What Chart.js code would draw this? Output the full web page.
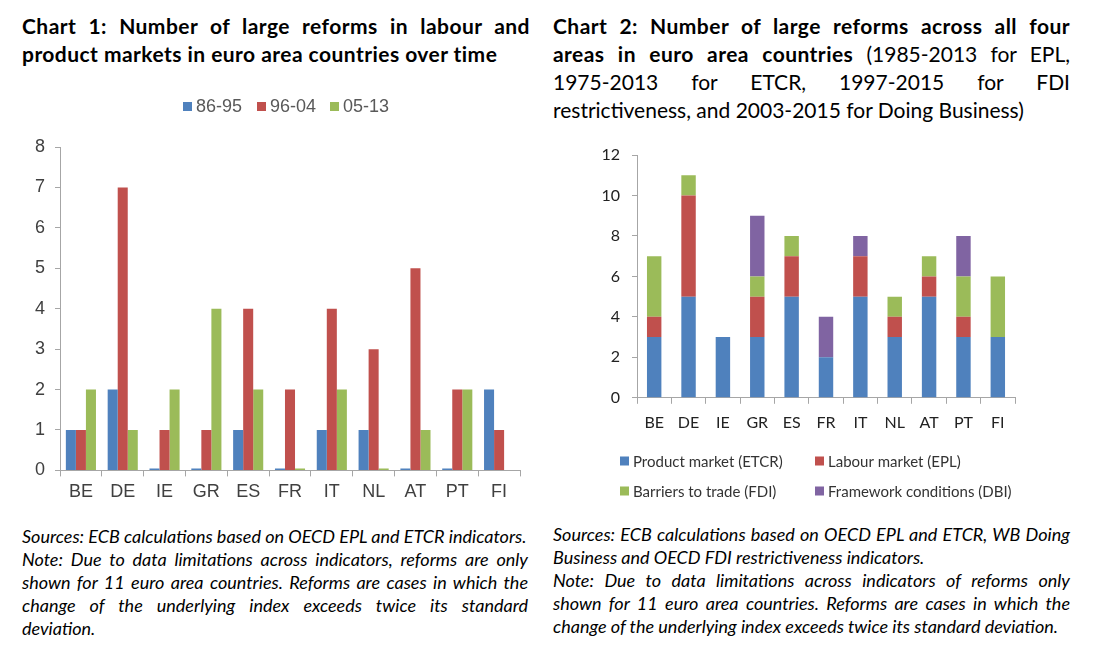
<!DOCTYPE html>
<html>
<head>
<meta charset="utf-8">
<script src="https://cdn.jsdelivr.net/npm/chart.js@4"></script>
<style>
    body { margin: 0; width: 1105px; height: 665px; background: #fff; position: relative; overflow: hidden; font-family: Lato, "Open Sans", sans-serif; color: #000; }
    .box { position: absolute; }
    .line { white-space: nowrap; text-align: justify; text-align-last: justify; }
    .line.last { text-align-last: left; }
    .title { font-size: 21px; line-height: 28px; }
    .title b { letter-spacing: 0.45px; }
    .note { font-size: 18px; line-height: 23px; font-style: italic; }
</style>
</head>
<body>
<div class="box title" style="left:22px; top:12px; width:508px;">
    <div class="line"><b>Chart 1: Number of large reforms in labour and</b></div>
    <div class="line last"><b>product markets in euro area countries over time</b></div>
</div>
<div class="box title" style="left:553px; top:12px; width:517px;">
    <div class="line"><b>Chart 2: Number of large reforms across all four</b></div>
    <div class="line"><b>areas in euro area countries</b> (1985-2013 for EPL,</div>
    <div class="line">1975-2013 for ETCR, 1997-2015 for FDI</div>
    <div class="line last">restrictiveness, and 2003-2015 for Doing Business)</div>
</div>

<div class="box" style="left:20px; top:87px; width:510px; height:425px;"><canvas id="chart1"></canvas></div>
<div class="box" style="left:580px; top:140px; width:450px; height:365px;"><canvas id="chart2"></canvas></div>

<div class="box note" style="left:22px; top:525px; width:506px;">
    <div class="line last">Sources: ECB calculations based on OECD EPL and ETCR indicators.</div>
    <div class="line">Note: Due to data limitations across indicators, reforms are only</div>
    <div class="line">shown for 11 euro area countries. Reforms are cases in which the</div>
    <div class="line">change of the underlying index exceeds twice its standard</div>
    <div class="line last">deviation.</div>
</div>
<div class="box note" style="left:553px; top:523px; width:517px;">
    <div class="line">Sources: ECB calculations based on OECD EPL and ETCR, WB Doing</div>
    <div class="line last">Business and OECD FDI restrictiveness indicators.</div>
    <div class="line">Note: Due to data limitations across indicators of reforms only</div>
    <div class="line">shown for 11 euro area countries. Reforms are cases in which the</div>
    <div class="line last">change of the underlying index exceeds twice its standard deviation.</div>
</div>

<script>
// shrink any text line that would run past its column
document.querySelectorAll('.line').forEach(el => {
    let size = parseFloat(getComputedStyle(el).fontSize);
    while (el.scrollWidth > el.clientWidth + 0.5 && size > 10) {
        size -= 0.25;
        el.style.fontSize = size + 'px';
    }
});

const countries = ['BE', 'DE', 'IE', 'GR', 'ES', 'FR', 'IT', 'NL', 'AT', 'PT', 'FI'];

// chart 1 (zeros are shown as a thin stub in the original)
const periods = ['86-95', '96-04', '05-13'];
const reforms8695 = [1, 2, 0.05, 0.05, 1, 0.05, 1, 1, 0.05, 0.05, 2];
const reforms9604 = [1, 7, 1, 1, 4, 2, 4, 3, 5, 2, 1];
const reforms0513 = [2, 1, 2, 4, 2, 0.05, 2, 0.05, 1, 2, 0];

// chart 2
const areas = ['Product market (ETCR)', 'Labour market (EPL)', 'Barriers to trade (FDI)', 'Framework conditions (DBI)'];
const etcr = [3, 5, 3, 3, 5, 2, 5, 3, 5, 3, 3];
const epl  = [1, 5, 0, 2, 2, 0, 2, 1, 1, 1, 0];
const fdi  = [3, 1, 0, 1, 1, 0, 0, 1, 1, 2, 3];
const dbi  = [0, 0, 0, 3, 0, 2, 1, 0, 0, 2, 0];

const blue = '#4F81BD', red = '#C0504D', green = '#9BBB59', purple = '#8064A2';
const axisGrey = '#A6A6A6';

// legend drawn at fixed spots, one entry per dataset
const placedLegend = {
    id: 'placedLegend',
    afterDraw(chart, args, opts) {
        const ctx = chart.ctx;
        ctx.save();
        ctx.font = opts.font;
        ctx.textBaseline = 'middle';
        chart.data.datasets.forEach((ds, i) => {
            const [x, y] = opts.spots[i];
            ctx.fillStyle = ds.backgroundColor;
            ctx.fillRect(x, y - opts.box / 2, opts.box, opts.box);
            ctx.fillStyle = opts.color;
            ctx.fillText(ds.label, x + opts.box + opts.gap, y + 1);
        });
        ctx.restore();
    }
};

new Chart(document.getElementById('chart1'), {
    type: 'bar',
    data: {
        labels: countries,
        datasets: [
            { label: periods[0], data: reforms8695, backgroundColor: blue },
            { label: periods[1], data: reforms9604, backgroundColor: red },
            { label: periods[2], data: reforms0513, backgroundColor: green }
        ]
    },
    plugins: [placedLegend],
    options: {
        responsive: true,
        maintainAspectRatio: false,
        animation: false,
        layout: { padding: { top: 60, right: 10, bottom: 4 } },
        datasets: { bar: { categoryPercentage: 0.72, barPercentage: 1 } },
        plugins: {
            tooltip: { enabled: false },
            legend: { display: false },
            placedLegend: {
                spots: [[163, 19.5], [237, 19.5], [310, 19.5]],
                box: 9, gap: 4, font: '18px "Liberation Sans"', color: '#595959'
            }
        },
        scales: {
            x: {
                grid: { drawOnChartArea: false, color: axisGrey, tickLength: 6 },
                border: { color: axisGrey },
                ticks: { color: '#404040', font: { family: 'Liberation Sans', size: 18 }, padding: 5 }
            },
            y: {
                min: 0, max: 8,
                afterFit: s => { s.width = 40; },
                grid: { drawOnChartArea: false, color: axisGrey, tickLength: 5 },
                border: { color: axisGrey },
                ticks: { stepSize: 1, color: '#404040', font: { family: 'Liberation Sans', size: 18 }, padding: 10 }
            }
        }
    }
});

new Chart(document.getElementById('chart2'), {
    type: 'bar',
    data: {
        labels: countries,
        datasets: [
            { label: areas[0], data: etcr, backgroundColor: blue },
            { label: areas[1], data: epl, backgroundColor: red },
            { label: areas[2], data: fdi, backgroundColor: green },
            { label: areas[3], data: dbi, backgroundColor: purple }
        ]
    },
    plugins: [placedLegend],
    options: {
        responsive: true,
        maintainAspectRatio: false,
        animation: false,
        layout: { padding: { top: 15, right: 15, bottom: 64 } },
        datasets: { bar: { categoryPercentage: 0.42, barPercentage: 1 } },
        plugins: {
            tooltip: { enabled: false },
            legend: { display: false },
            placedLegend: {
                spots: [[40, 321], [235, 321], [40, 351], [235, 351]],
                box: 9, gap: 4, font: '15px Lato', color: '#333'
            }
        },
        scales: {
            x: {
                stacked: true,
                grid: { drawOnChartArea: false, color: axisGrey, tickLength: 6 },
                border: { color: axisGrey },
                ticks: { color: '#222', font: { family: 'Lato', size: 16 }, padding: 9 }
            },
            y: {
                stacked: true,
                min: 0, max: 12,
                afterFit: s => { s.width = 57; s.paddingTop = 0; },
                grid: { drawOnChartArea: false, color: axisGrey, tickLength: 5 },
                border: { color: axisGrey },
                ticks: { stepSize: 2, color: '#222', font: { family: 'Lato', size: 16 }, padding: 12 }
            }
        }
    }
});
</script>
</body>
</html>
